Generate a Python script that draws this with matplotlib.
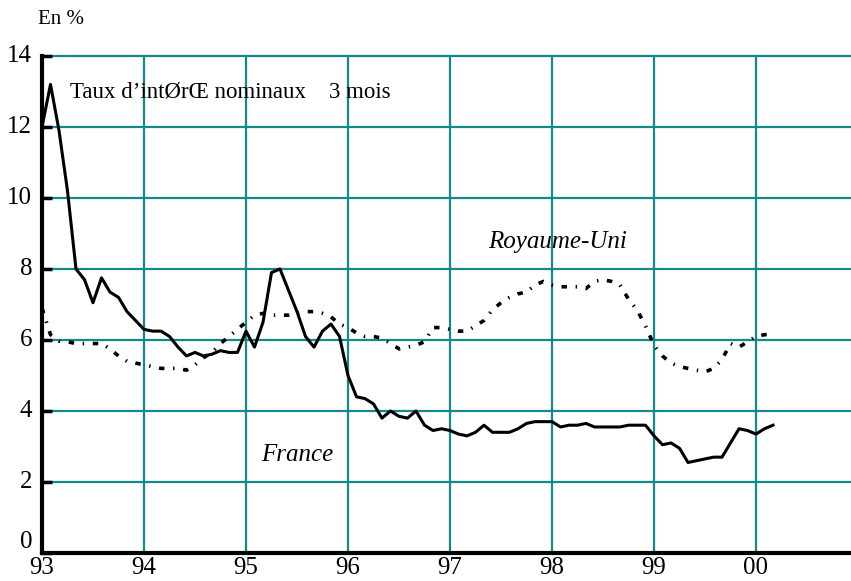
import numpy as np
import matplotlib
matplotlib.use("Agg")
import matplotlib.pyplot as plt

# taux d'interet nominaux 3 mois, mensuel, janv. 93 -> mars 2000
france = [12.0, 13.2, 11.9, 10.2, 8.0, 7.7, 7.05, 7.75, 7.35, 7.2, 6.8, 6.55,
          6.3, 6.25, 6.25, 6.1, 5.8, 5.55, 5.65, 5.55, 5.6, 5.7, 5.65, 5.65,
          6.25, 5.8, 6.5, 7.9, 8.0, 7.4, 6.8, 6.1, 5.8, 6.25, 6.45, 6.1,
          5.0, 4.4, 4.35, 4.2, 3.8, 4.0, 3.85, 3.8, 4.0, 3.6, 3.45, 3.5,
          3.45, 3.35, 3.3, 3.4, 3.6, 3.4, 3.4, 3.4, 3.5, 3.65, 3.7, 3.7,
          3.7, 3.55, 3.6, 3.6, 3.65, 3.55, 3.55, 3.55, 3.55, 3.6, 3.6, 3.6,
          3.3, 3.05, 3.1, 2.95, 2.55, 2.6, 2.65, 2.7, 2.7, 3.1, 3.5, 3.45,
          3.35, 3.5, 3.6]
royaume_uni = [6.9, 6.15, 5.97, 5.95, 5.9, 5.9, 5.9, 5.9, 5.75, 5.55, 5.4, 5.35,
               5.3, 5.25, 5.2, 5.2, 5.2, 5.15, 5.3, 5.5, 5.65, 5.9, 6.1, 6.3,
               6.5, 6.7, 6.75, 6.7, 6.7, 6.7, 6.75, 6.8, 6.8, 6.75, 6.65, 6.45,
               6.35, 6.2, 6.1, 6.1, 6.05, 5.9, 5.75, 5.8, 5.85, 5.95, 6.35, 6.35,
               6.3, 6.25, 6.25, 6.4, 6.55, 6.85, 7.05, 7.2, 7.3, 7.35, 7.55, 7.65,
               7.55, 7.5, 7.5, 7.5, 7.45, 7.65, 7.7, 7.65, 7.55, 7.15, 6.85, 6.4,
               5.85, 5.55, 5.35, 5.25, 5.2, 5.15, 5.1, 5.2, 5.45, 5.9, 5.8, 5.95,
               6.1, 6.15, 6.15]
annees = [93, 94, 95, 96, 97, 98, 99, 100]
annee_labels = ["93", "94", "95", "96", "97", "98", "99", "00"]
y_ticks = [0, 2, 4, 6, 8, 10, 12, 14]

x = 93 + np.arange(len(france)) / 12.0

plt.rcParams['font.family'] = ['Liberation Serif', 'DejaVu Serif']

fig = plt.figure(figsize=(8.51, 5.81), dpi=100)
ax = fig.add_axes([42 / 851, 28 / 581, 809 / 851, 497 / 581])

teal = "#138a8a"
for a in annees:
    ax.axvline(a, color=teal, lw=1.6, zorder=1)
for v in y_ticks[1:]:
    ax.axhline(v, color=teal, lw=1.6, zorder=1, clip_on=False)

ax.plot(x, royaume_uni, color="black", lw=2.6, dashes=(1.5, 2.4, 0.4, 2.4), zorder=3)
ax.plot(x, france, color="black", lw=2.2, zorder=4)

ax.set_xlim(93, 93 + 809 / 102)
ax.set_ylim(0, 14)
ax.set_xticks(annees)
ax.set_xticklabels(annee_labels, fontsize=18)
ax.set_yticks(y_ticks)
ax.set_yticklabels([str(v) for v in y_ticks], fontsize=18)
ax.tick_params(axis='y', direction='in', length=7, width=2.5, pad=7, color='black')
ax.tick_params(axis='x', length=0, pad=3)
for lab in ax.get_yticklabels():
    lab.set_verticalalignment('center')
# le "0" est pose au-dessus de l'axe, comme dans l'original
ylabs = ax.get_yticklabels()
ylabs[0].set_verticalalignment('bottom')
ylabs[0].set_horizontalalignment('right')

for s in ['top', 'right']:
    ax.spines[s].set_visible(False)
ax.spines['left'].set_linewidth(3)
ax.spines['bottom'].set_linewidth(3)

ax.text(93.27, 13.0, "Taux d\u2019intØrŒ nominaux    3 mois", fontsize=16.5, va='center')
ax.text(98.05, 8.76, "Royaume-Uni", fontsize=18, style='italic', ha='center', va='center')
ax.text(95.5, 2.76, "France", fontsize=18, style='italic', ha='center', va='center')
fig.text(38 / 851, 1 - 20 / 581, "En %", fontsize=15, va='center')

fig.savefig("out.png", dpi=100)
